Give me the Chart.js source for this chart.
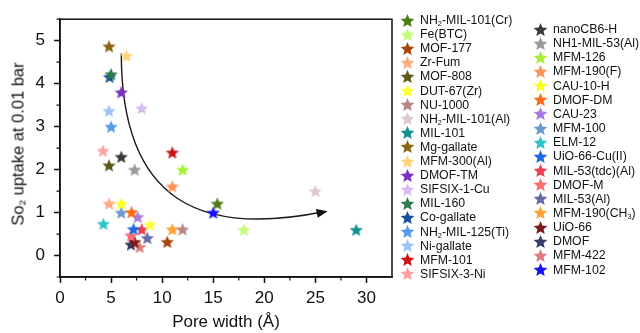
<!DOCTYPE html>
<html>
<head>
<meta charset="utf-8">
<script src="https://cdn.jsdelivr.net/npm/chart.js@4.4.0/dist/chart.umd.min.js"></script>
<style>
  body { margin: 0; background: #fff; font-family: "Liberation Sans", Arial, sans-serif; }
  #wrap { position: relative; width: 640px; height: 333px; overflow: hidden; }
  #yTitle {
    position: absolute; left: 18px; top: 144px;
    transform: translate(-50%, -50%) rotate(-90deg);
    white-space: nowrap; font-size: 16.5px; color: #111;
  }
  .legend-row {
    position: absolute; display: flex; align-items: center; height: 16px;
    font-size: 12.3px; color: #111; white-space: nowrap;
  }
  .legend-row canvas { margin-right: 4px; }
  sub { font-size: 60%; vertical-align: -2px; line-height: 0; }
</style>
</head>
<body>
<div id="wrap">
  <canvas id="poreChart" width="640" height="333"></canvas>
  <div id="yTitle">So<sub>2</sub> uptake at 0.01 bar</div>
</div>
<script>
// materials, in legend order (first 19 in the left column)
const materials = [
  'NH2-MIL-101(Cr)', 'Fe(BTC)', 'MOF-177', 'Zr-Fum', 'MOF-808', 'DUT-67(Zr)', 'NU-1000',
  'NH2-MIL-101(Al)', 'MIL-101', 'Mg-gallate', 'MFM-300(Al)', 'DMOF-TM', 'SIFSIX-1-Cu',
  'MIL-160', 'Co-gallate', 'NH2-MIL-125(Ti)', 'Ni-gallate', 'MFM-101', 'SIFSIX-3-Ni',
  'nanoCB6-H', 'NH1-MIL-53(Al)', 'MFM-126', 'MFM-190(F)', 'CAU-10-H', 'DMOF-DM', 'CAU-23',
  'MFM-100', 'ELM-12', 'UiO-66-Cu(II)', 'MIL-53(tdc)(Al)', 'DMOF-M', 'MIL-53(Al)',
  'MFM-190(CH3)', 'UiO-66', 'DMOF', 'MFM-422', 'MFM-102'
];
// pore width (Å)
const poreWidth = [
  15.4, 18.0, 10.5, 4.8, 4.8, 8.8, 12.0,
  25.0, 29.0, 4.8, 6.5, 6.0, 8.0,
  5.0, 4.85, 5.0, 4.8, 11.0, 4.2,
  6.0, 7.3, 12.0, 11.0, 6.0, 7.0, 7.6,
  6.0, 4.25, 7.2, 8.0, 6.95, 8.55,
  11.0, 7.3, 6.95, 7.8, 15.0
];
// SO2 uptake at 0.01 bar
const so2Uptake = [
  1.21, 0.6, 0.32, 1.21, 2.1, 0.72, 0.61,
  1.5, 0.6, 4.87, 4.65, 3.8, 3.43,
  4.22, 4.16, 3.0, 3.37, 2.4, 2.44,
  2.3, 2.0, 2.0, 1.61, 1.21, 1.01, 0.9,
  1.0, 0.74, 0.62, 0.61, 0.47, 0.41,
  0.61, 0.32, 0.26, 0.2, 1.0
];
const starColors = [
  '#4a7a14', '#c4fb78', '#a8440f', '#ffab80', '#5c5a16', '#ffff3c', '#b68686',
  '#dcc9c9', '#14908f', '#8b6612', '#ffd37c', '#7a30c0', '#d9bbf2',
  '#2c7c4c', '#164f98', '#5598ec', '#9dc4f5', '#cc1212', '#ffa2a2',
  '#3a3a3a', '#9a9a9a', '#a6f038', '#ff9258', '#ffff1e', '#ff6a12', '#a87ae0',
  '#6a9bd0', '#30c6c8', '#1c6ae8', '#f03c4c', '#ff6c6c', '#6a6aa8',
  '#ffa032', '#7a1a1a', '#3a3a6c', '#e07c7c', '#1212ff'
];
const xTicks = [0, 5, 10, 15, 20, 25, 30];
const yTicks = [0, 1, 2, 3, 4, 5];
const xMinor = [2.5, 7.5, 12.5, 17.5, 22.5, 27.5];
const yMinor = [-0.5, 0.5, 1.5, 2.5, 3.5, 4.5, 5.5];
// guide arrow (cubic bezier control points, data units)
const arrowPath = [[6.0, 4.7], [6.0, 1.2], [14, 0.45], [26.2, 1.03]];

const FONT = '"Liberation Sans", Arial, sans-serif';
const INK = '#111';

function makeStar(color, r) {
  const c = document.createElement('canvas');
  const size = Math.ceil(r * 2 + 2);
  c.width = c.height = size;
  const ctx = c.getContext('2d');
  const cx = size / 2, cy = size / 2 + r * 0.1;
  ctx.beginPath();
  for (let i = 0; i < 10; i++) {
    const rad = i % 2 ? r * 0.45 : r;
    const a = -Math.PI / 2 + i * Math.PI / 5;
    ctx.lineTo(cx + rad * Math.cos(a), cy + rad * Math.sin(a));
  }
  ctx.closePath();
  ctx.fillStyle = color;
  ctx.fill();
  return c;
}

const datasets = materials.map((name, i) => ({
  label: name,
  data: [{ x: poreWidth[i], y: so2Uptake[i] }],
  pointStyle: makeStar(starColors[i], 7),
  pointRadius: 7,
  backgroundColor: starColors[i],
  borderColor: starColors[i]
}));

// box frame, minor ticks and the trend arrow
const decorations = {
  id: 'decorations',
  beforeDatasetsDraw(chart) {
    const { ctx, scales: { x, y } } = chart;
    const p = arrowPath.map(([a, b]) => [x.getPixelForValue(a), y.getPixelForValue(b)]);
    ctx.save();
    ctx.strokeStyle = '#1a1a1a';
    ctx.lineWidth = 1.4;
    ctx.beginPath();
    ctx.moveTo(p[0][0], p[0][1]);
    ctx.bezierCurveTo(p[1][0], p[1][1], p[2][0], p[2][1], p[3][0] - 4, p[3][1] + 0.5);
    ctx.stroke();
    const ang = Math.atan2(p[3][1] - p[2][1], p[3][0] - p[2][0]);
    ctx.translate(p[3][0], p[3][1]);
    ctx.rotate(ang);
    ctx.fillStyle = '#111';
    ctx.beginPath();
    ctx.moveTo(0, 0);
    ctx.lineTo(-11, -4.5);
    ctx.lineTo(-11, 4.5);
    ctx.closePath();
    ctx.fill();
    ctx.restore();
  },
  afterDraw(chart) {
    const { ctx, chartArea: a, scales: { x, y } } = chart;
    ctx.save();
    ctx.strokeStyle = INK;
    ctx.lineWidth = 1.5;
    ctx.strokeRect(a.left, a.top, a.right - a.left, a.bottom - a.top);
    ctx.lineWidth = 1.2;
    ctx.beginPath();
    xMinor.forEach(v => {
      const px = x.getPixelForValue(v);
      ctx.moveTo(px, a.bottom);
      ctx.lineTo(px, a.bottom + 3.5);
    });
    yMinor.forEach(v => {
      const py = y.getPixelForValue(v);
      ctx.moveTo(a.left, py);
      ctx.lineTo(a.left - 3.5, py);
    });
    ctx.stroke();
    ctx.restore();
  }
};

new Chart(document.getElementById('poreChart'), {
  type: 'scatter',
  data: { datasets },
  options: {
    responsive: false,
    animation: false,
    layout: { padding: { top: 11, right: 248, left: 0, bottom: 0 } },
    plugins: {
      legend: { display: false },
      tooltip: { enabled: false }
    },
    scales: {
      x: {
        type: 'linear',
        min: 0,
        max: 32.5,
        afterBuildTicks: s => { s.ticks = xTicks.map(v => ({ value: v })); },
        afterFit: s => { s.height = 56; },
        ticks: { color: INK, font: { size: 17, family: FONT }, padding: 5, maxRotation: 0, autoSkip: false },
        grid: { drawOnChartArea: false, tickLength: 6, tickColor: INK, tickWidth: 1.5 },
        border: { color: INK, width: 1.5 },
        title: {
          display: true, text: 'Pore width (Å)', color: INK,
          font: { size: 17, family: FONT }, padding: { top: 0, bottom: 0 }
        }
      },
      y: {
        type: 'linear',
        min: -0.5,
        max: 5.5,
        afterBuildTicks: s => { s.ticks = yTicks.map(v => ({ value: v })); },
        afterFit: s => { s.width = 60; },
        ticks: { color: INK, font: { size: 17, family: FONT }, padding: 9, autoSkip: false },
        grid: { drawOnChartArea: false, tickLength: 6, tickColor: INK, tickWidth: 1.5 },
        border: { color: INK, width: 1.5 }
      }
    }
  },
  plugins: [decorations]
});

// two-column legend at the right
function labelHtml(name) {
  return name.replace(/^NH2/, 'NH<sub>2</sub>').replace('CH3', 'CH<sub>3</sub>');
}
const wrap = document.getElementById('wrap');
materials.forEach((name, i) => {
  const left = i < 19;
  const idx = left ? i : i - 19;
  const row = document.createElement('div');
  row.className = 'legend-row';
  row.style.left = (left ? 399 : 532) + 'px';
  row.style.top = ((left ? 20 : 29) + idx * (left ? 14.1 : 14.15) - 8) + 'px';
  row.appendChild(makeStar(starColors[i], 7.2));
  const span = document.createElement('span');
  span.innerHTML = labelHtml(name);
  row.appendChild(span);
  wrap.appendChild(row);
});
</script>
</body>
</html>
